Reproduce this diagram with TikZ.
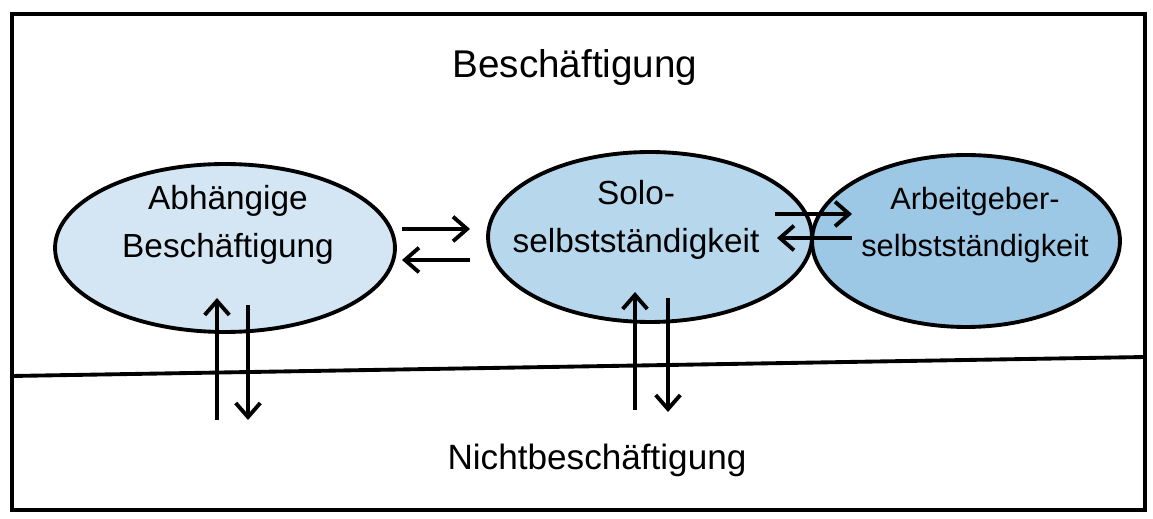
\documentclass[tikz,border=0pt]{standalone}
\usepackage{fontspec}
\setmainfont{Liberation Sans}
\usetikzlibrary{shapes.geometric,arrows.meta}
\definecolor{bluelight}{RGB}{212,230,243}
\definecolor{bluemid}{RGB}{183,215,236}
\definecolor{bluedark}{RGB}{157,200,229}
\begin{document}
\begin{tikzpicture}[x=0.02cm,y=-0.02cm,
	blob/.style={ellipse, draw, line width=2.2pt, inner sep=0pt},
	lbl/.style={align=center, font=\fontsize{19}{27}\selectfont},
	flow/.style={line width=2.2pt, -{Straight Barb[length=8pt,width=14pt]}}]
\useasboundingbox (0,0) rectangle (1153,519);
% Frame and divider
\draw [line width=2.2pt] (12,14) rectangle (1145,510);
\draw [line width=2.2pt] (12,376) -- (1145,357);
% Titles of the two areas
\node [font=\fontsize{22}{26}\selectfont] (besch) at (575,68) {Beschäftigung};
\node [font=\fontsize{20}{24}\selectfont] (nichtb) at (597,460) {Nichtbeschäftigung};
% Ellipses
\node [blob, fill=bluelight, minimum width=6.8cm, minimum height=3.36cm] (abh) at (225,248) {};
\node [blob, fill=bluemid, minimum width=6.48cm, minimum height=3.4cm] (solo) at (650,237) {};
\node [blob, fill=bluedark, minimum width=6.16cm, minimum height=3.44cm] (arbg) at (966,241) {};
\node [lbl] (abhtxt) at (228,225) {Abhängige\\Beschäftigung};
\node [lbl] (solotxt) at (636,220) {Solo-\\selbstständigkeit};
\node [lbl, font=\fontsize{17.5}{27}\selectfont] (arbgtxt) at (975,225) {Arbeitgeber-\\selbstständigkeit};
% Ends of the arrows
\coordinate (h1a) at (402,229); \coordinate (h1b) at (470,229);
\coordinate (h2a) at (470,260); \coordinate (h2b) at (402,260);
\coordinate (h3a) at (775,214); \coordinate (h3b) at (852,214);
\coordinate (h4a) at (852,238); \coordinate (h4b) at (777,238);
\coordinate (v1a) at (217,420); \coordinate (v1b) at (217,298);
\coordinate (v2a) at (248,305); \coordinate (v2b) at (248,420);
\coordinate (v3a) at (635,410); \coordinate (v3b) at (635,292);
\coordinate (v4a) at (668,298); \coordinate (v4b) at (668,412);
% Arrows
\draw [flow] (h1a) -- (h1b);
\draw [flow] (h2a) -- (h2b);
\draw [flow] (h3a) -- (h3b);
\draw [flow] (h4a) -- (h4b);
\draw [flow] (v1a) -- (v1b);
\draw [flow] (v2a) -- (v2b);
\draw [flow] (v3a) -- (v3b);
\draw [flow] (v4a) -- (v4b);
\end{tikzpicture}
\end{document}
